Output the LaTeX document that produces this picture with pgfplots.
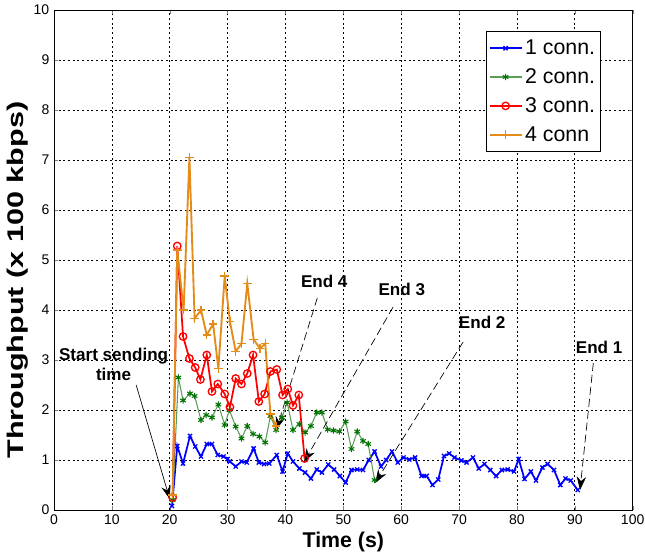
\documentclass[border=0pt]{standalone}
\usepackage{fontspec}
\setmainfont{Liberation Sans}
\usepackage{pgfplots}
\pgfplotsset{compat=1.18}
\usetikzlibrary{arrows.meta}

\definecolor{cblue}{rgb}{0,0,1}
\definecolor{cgreenl}{rgb}{0.35,0.62,0.35}
\definecolor{cgreenm}{rgb}{0,0.45,0}
\definecolor{cred}{rgb}{1,0,0}
\definecolor{corange}{rgb}{0.89,0.55,0.1}

\begin{document}
\begin{tikzpicture}
\begin{axis}[
    name=ax,
    scale only axis,
    width=434pt, height=375pt,
    xmin=0, xmax=100, ymin=0, ymax=10,
    xtick={0,10,...,100}, ytick={0,1,...,10},
    grid=major,
    major grid style={black, dash pattern=on 1.5pt off 2pt, line width=0.5pt},
    tick align=inside,
    tick pos=both,
    major tick length=3pt,
    axis line style={black, line width=0.6pt},
    /pgf/number format/assume math mode=true,
    tick label style={font=\fontsize{10.5}{12}\selectfont},
    xlabel={\textbf{Time (s)}},
    ylabel={\textbf{Throughput (x 100 kbps)}},
    xlabel style={font=\fontsize{16}{18}\selectfont, yshift=1pt},
    ylabel style={font=\fontsize{17}{19}\selectfont, at={(axis description cs:-0.062,0.46)}, anchor=center, xscale=1.35},
    legend style={at={(0.945,0.957)}, anchor=north east, draw=black, line width=0.6pt,
        font=\fontsize{16}{19}\selectfont, row sep=5pt, inner xsep=2pt, inner ysep=4pt},
    legend cell align=left,
    legend image code/.code={
        \draw[mark repeat=2, mark phase=2] plot coordinates {(0cm,0cm) (0.42cm,0cm) (0.84cm,0cm)};
    },
]
\addplot[cblue, line width=1.3pt, mark=x, mark size=2.2pt, mark options={line width=1pt}] coordinates {
(20.4,0.08)(21.3,1.28)(22.3,0.93)(23.5,1.48)(24.4,1.27)(25.4,1.07)(26.4,1.32)(27.3,1.32)
(28.3,1.1)(29.3,1.07)(30.0,1.02)(30.4,0.97)(31.4,0.87)(32.4,0.97)(33.3,0.95)(34.5,1.23)
(35.4,0.95)(36.3,0.92)(37.2,0.93)(38.5,1.1)(39.5,0.77)(40.4,1.13)(41.3,0.97)(42.4,0.83)
(43.4,0.75)(44.4,0.63)(45.4,0.81)(46.3,0.75)(47.4,0.91)(48.4,0.81)(49.4,0.68)(50.4,0.55)
(51.4,0.8)(52.4,0.81)(53.4,0.8)(54.4,1.0)(55.4,1.17)(56.5,0.87)(57.4,1.0)(58.4,1.17)
(59.4,0.95)(60.4,1.05)(61.4,1.01)(62.4,1.05)(63.5,0.68)(64.4,0.68)(65.4,0.5)(66.4,0.61)
(67.4,1.08)(68.3,1.13)(69.2,1.05)(70.4,0.99)(71.3,0.95)(72.4,1.05)(73.4,0.83)(74.4,0.92)
(75.4,0.8)(76.4,0.68)(77.4,0.8)(78.4,0.81)(79.5,0.77)(80.3,1.02)(81.3,0.62)(82.4,0.77)
(83.3,0.59)(84.4,0.85)(85.3,0.92)(86.4,0.8)(87.5,0.5)(88.4,0.63)(89.3,0.59)(90.5,0.4)
};
\addlegendentry{1 conn.}
\addplot[cgreenl, line width=0.8pt, mark=asterisk, mark size=2.4pt, mark options={cgreenm, line width=0.8pt}] coordinates {
(20.5,0.2)(21.5,2.65)(22.3,2.19)(23.5,2.33)(24.3,2.28)(25.4,1.8)(26.3,1.9)(27.3,1.85)
(28.4,2.11)(29.5,1.7)(30.3,2.0)(31.4,1.67)(32.4,1.43)(33.4,1.68)(34.4,1.52)(35.5,1.47)
(36.5,1.35)(37.4,1.88)(38.4,1.6)(39.4,1.85)(40.3,2.15)(41.3,1.6)(42.4,1.72)(43.4,1.55)
(44.4,1.68)(45.4,1.95)(46.3,1.95)(47.3,1.61)(48.3,1.59)(49.3,1.57)(50.4,1.77)(51.4,1.22)
(52.4,1.57)(53.4,1.38)(54.3,1.32)(55.4,0.6)
};
\addlegendentry{2 conn.}
\addplot[cred, line width=1.3pt, mark=o, mark size=2.8pt, mark options={line width=1pt}] coordinates {
(20.5,0.25)(21.3,5.28)(22.3,3.47)(23.4,3.03)(24.4,2.85)(25.3,2.61)(26.4,3.1)(27.3,2.37)
(28.3,2.52)(29.5,2.32)(30.4,2.06)(31.4,2.63)(32.4,2.52)(33.4,2.73)(34.4,3.1)(35.4,2.17)
(36.4,2.32)(37.4,2.77)(38.5,2.81)(39.5,2.3)(40.4,2.42)(41.3,2.09)(42.3,2.3)(43.3,1.03)
};
\addlegendentry{3 conn.}
\addplot[corange, line width=1.4pt, mark=+, mark size=3.2pt, mark options={line width=1pt}] coordinates {
(20.5,0.3)(21.3,5.2)(22.4,4.0)(23.4,7.05)(24.3,3.83)(25.4,4.0)(26.4,3.5)(27.5,3.72)
(28.4,2.83)(29.5,4.68)(30.4,3.77)(31.4,3.17)(32.4,3.33)(33.4,4.53)(34.5,3.41)(35.6,3.23)
(36.5,3.33)(37.4,1.92)(38.4,1.68)
};
\addlegendentry{4 conn}

% annotations
\begin{scope}[font=\fontsize{12.8}{15}\selectfont\bfseries]
\node[align=center] at (axis cs:10.3,2.92) {Start sending\\time};
\draw[black, line width=0.5pt, -{Stealth[length=10pt,width=7pt]}] (axis cs:14.2,2.5) -- (axis cs:20.0,0.22);
\node at (axis cs:46.7,4.58) {End 4};
\draw[black, line width=0.5pt, dash pattern=on 6pt off 3pt, -{Stealth[length=10pt,width=7pt]}] (axis cs:45.5,4.24) -- (axis cs:38.4,1.6);
\node at (axis cs:60.1,4.42) {End 3};
\draw[black, line width=0.5pt, dash pattern=on 6pt off 3pt, -{Stealth[length=10pt,width=7pt]}] (axis cs:58.6,4.06) -- (axis cs:43.2,0.96);
\node at (axis cs:74.0,3.76) {End 2};
\draw[black, line width=0.5pt, dash pattern=on 6pt off 3pt, -{Stealth[length=10pt,width=7pt]}] (axis cs:70.7,3.36) -- (axis cs:55.5,0.54);
\node at (axis cs:94.2,3.26) {End 1};
\draw[black, line width=0.5pt, dash pattern=on 6pt off 3pt, -{Stealth[length=10pt,width=7pt]}] (axis cs:93.2,2.94) -- (axis cs:90.9,0.4);
\end{scope}
\end{axis}
\pgfresetboundingbox
\path ([xshift=-40.5pt,yshift=-35.25pt]ax.south west) rectangle ([xshift=9.25pt,yshift=7.5pt]ax.north east);
\end{tikzpicture}
\end{document}
